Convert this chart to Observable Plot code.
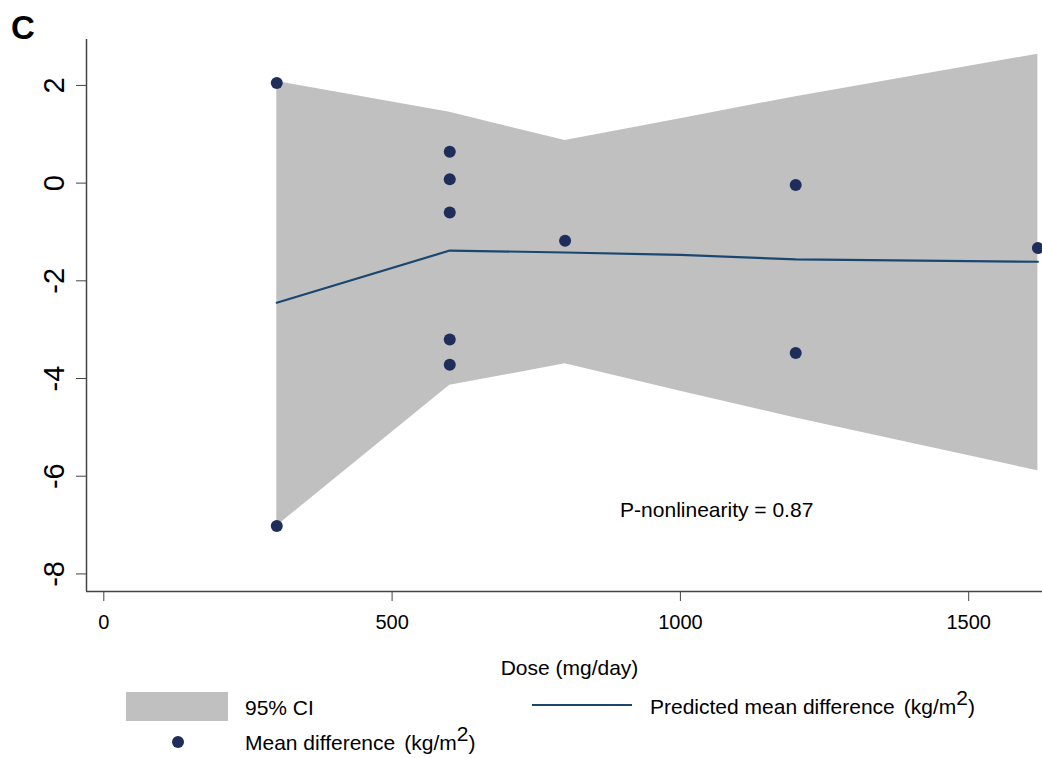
<!DOCTYPE html>
<html>
<head>
<meta charset="utf-8">
<script src="https://cdn.jsdelivr.net/npm/d3@7"></script>
<script src="https://cdn.jsdelivr.net/npm/@observablehq/plot@0.6"></script>
<style>
  body { margin: 0; background: #fff; }
  #wrap { position: relative; width: 1042px; height: 758px; overflow: hidden; font-family: 'Liberation Sans', Arial, sans-serif; color: #000; }
  #chart { position: absolute; left: 0; top: 0; }
  .abs { position: absolute; white-space: nowrap; line-height: 21px; font-size: 21px; }
  .unit { margin-left: 9px; }
  .sup { position: relative; top: -9px; font-size: 21px; }
</style>
</head>
<body>
<div id="wrap">
  <div id="chart"></div>
  <div class="abs" style="left:11px; top:11px; font-size:33px; line-height:33px; font-weight:bold;">C</div>
  <div style="position:absolute; left:126px; top:692px; width:102px; height:29px; background:#c0c0c0;"></div>
  <div class="abs" style="left:245px; top:697px;">95% CI</div>
  <div style="position:absolute; left:532px; top:704px; width:100px; height:2px; background:#1a476f;"></div>
  <div class="abs" style="left:650px; top:696px;">Predicted mean difference<span class="unit">(kg/m<span class="sup">2</span>)</span></div>
  <div style="position:absolute; left:172px; top:736px; width:12px; height:12px; border-radius:50%; background:#1e2d5a;"></div>
  <div class="abs" style="left:245px; top:732px;">Mean difference<span class="unit">(kg/m<span class="sup">2</span>)</span></div>
</div>
<script>
// Fitted dose-response curve (predicted mean difference and 95% CI)
const curveDose = [300, 600, 800, 1000, 1200, 1620];
const predicted = [-2.45, -1.38, -1.42, -1.47, -1.56, -1.61];
const ciLower   = [-7.02, -4.14, -3.70, -4.26, -4.81, -5.89];
const ciUpper   = [2.08, 1.45, 0.87, 1.32, 1.77, 2.64];

// Observed study mean differences
const obsDose = [300, 300, 600, 600, 600, 600, 600, 800, 1200, 1200, 1620];
const obsMD   = [2.05, -7.02, 0.64, 0.08, -0.60, -3.20, -3.72, -1.18, -0.04, -3.48, -1.33];

// Axes
const xTicks = [0, 500, 1000, 1500];
const yTicks = [2, 0, -2, -4, -6, -8];
const xDomain = [-30, 1628];
const yDomain = [-8.36, 2.94];
const xLabel = "Dose (mg/day)";

// Annotation
const pText = "P-nonlinearity = 0.87";
const pTextDose = 1063;
const pTextMD = -6.69;

const curve = curveDose.map((d, i) => ({dose: d, pred: predicted[i], lo: ciLower[i], hi: ciUpper[i]}));
const obs = obsDose.map((d, i) => ({dose: d, md: obsMD[i]}));
const plain = d => String(d);

const chart = Plot.plot({
  width: 1042,
  height: 690,
  marginLeft: 86,
  marginRight: 0,
  marginTop: 39,
  marginBottom: 99,
  x: {domain: xDomain},
  y: {domain: yDomain},
  style: {fontFamily: "'Liberation Sans', Arial, sans-serif", fontSize: "20px", color: "#000", background: "white"},
  marks: [
    Plot.areaY(curve, {x: "dose", y1: "lo", y2: "hi", fill: "#c0c0c0"}),
    Plot.line(curve, {x: "dose", y: "pred", stroke: "#1a476f", strokeWidth: 2.2}),
    Plot.dot(obs, {x: "dose", y: "md", r: 6, fill: "#1e2d5a", stroke: "none"}),
    Plot.text([pText], {x: () => pTextDose, y: () => pTextMD, text: d => d, fontSize: 21, textAnchor: "middle", lineAnchor: "middle", fill: "#000"}),
    Plot.ruleY([yDomain[0]], {stroke: "#444", strokeWidth: 1.5}),
    Plot.ruleX([xDomain[0]], {stroke: "#444", strokeWidth: 1.5}),
    Plot.axisX({ticks: xTicks, tickFormat: plain, tickSize: 10, tickPadding: 13, fontSize: 20, label: null, stroke: "#444", fill: "#000"}),
    Plot.axisY({ticks: yTicks, tickFormat: plain, tickSize: 10, tickPadding: 13, tickRotate: -90, fontSize: 29, label: null, stroke: "#444", fill: "#000"}),
    Plot.text([xLabel], {frameAnchor: "bottom", text: d => d, dx: 5, dy: 77, fontSize: 21, lineAnchor: "middle", fill: "#000"})
  ]
});
document.getElementById("chart").appendChild(chart);
</script>
</body>
</html>
